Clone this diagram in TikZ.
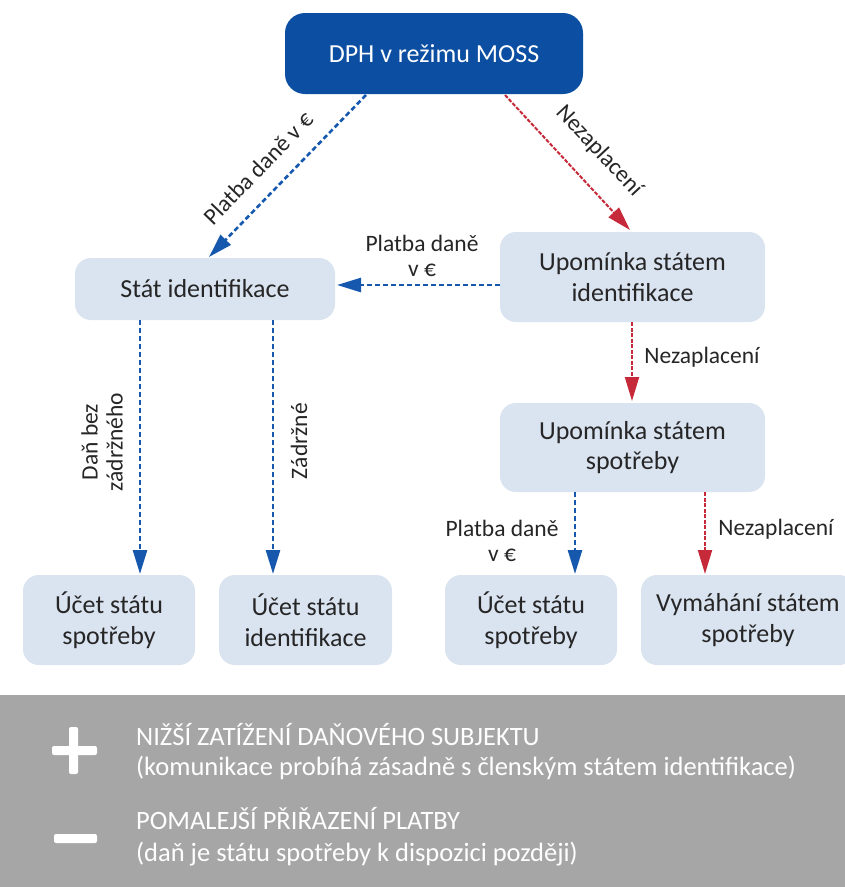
\documentclass[tikz,border=0pt]{standalone}
\usepackage{fontspec}
\setmainfont{Carlito}
\usetikzlibrary{arrows.meta}
\definecolor{dblue}{HTML}{0B4EA2}
\definecolor{lblue}{HTML}{DAE3F0}
\definecolor{ablue}{HTML}{1558AE}
\definecolor{ared}{HTML}{C62A3A}
\definecolor{panel}{HTML}{A6A6A6}
\definecolor{txt}{HTML}{262626}
\tikzset{
  box/.style={rounded corners=16pt, fill=lblue, text=txt, align=center, font=\fontsize{26}{30.5}\selectfont, inner sep=0pt},
  topbox/.style={rounded corners=20pt, fill=dblue, text=white, align=center, font=\fontsize{26}{30.5}\selectfont, inner sep=0pt},
  barrow/.style={ablue, line width=2.6pt, dash pattern=on 5pt off 3pt, -{Triangle[width=14pt,length=24pt]}},
  rarrow/.style={ared, line width=2pt, dash pattern=on 4pt off 1.5pt, -{Triangle[width=14pt,length=24pt]}},
  lbl/.style={text=txt, font=\fontsize{23.5}{25}\selectfont, align=center, inner sep=0pt},
  ptxt/.style={text=white, font=\fontsize{26.5}{30}\selectfont, anchor=base west, inner sep=0pt},
}
\begin{document}
\begin{tikzpicture}[x=1pt,y=-1pt]
\useasboundingbox (0,0) rectangle (845,887);
\fill[white] (0,0) rectangle (845,887);
% boxes
\node[topbox, minimum width=298pt, minimum height=81pt] (top) at (434,53.5) {DPH v režimu MOSS};
\node[box, minimum width=260pt, minimum height=62pt] (si) at (205,289) {Stát identifikace};
\node[box, minimum width=265pt, minimum height=90pt] (usi) at (632.5,277) {Upomínka státem\\identifikace};
\node[box, minimum width=265pt, minimum height=89pt] (usp) at (632.5,447.5) {Upomínka státem\\spotřeby};
\node[box, minimum width=172pt, minimum height=90pt] (u1) at (109,620) {Účet státu\\spotřeby};
\node[box, minimum width=173pt, minimum height=90pt] (u2) at (305.5,620) {Účet státu\\identifikace};
\node[box, minimum width=172pt, minimum height=90pt] (u3) at (531,620) {Účet státu\\spotřeby};
\node[box, minimum width=214pt, minimum height=90pt] (vym) at (748,620) {Vymáhání státem\\spotřeby};
% coordinates
\coordinate (a1) at (366,95);
\coordinate (a2) at (209,257);
\coordinate (b1) at (505,95);
\coordinate (b2) at (630,230);
\coordinate (c1) at (500,285);
\coordinate (c2) at (337,285);
\coordinate (d1) at (632,322);
\coordinate (d2) at (632,401);
\coordinate (e1) at (140,320);
\coordinate (e2) at (140,574);
\coordinate (f1) at (273,320);
\coordinate (f2) at (273,574);
\coordinate (g1) at (575,492);
\coordinate (g2) at (575,574);
\coordinate (h1) at (705,492);
\coordinate (h2) at (705,574);
% arrows
\draw[barrow] (a1) -- (a2);
\draw[rarrow] (b1) -- (b2);
\draw[barrow] (c1) -- (c2);
\draw[rarrow] (d1) -- (d2);
\draw[barrow] (e1) -- (e2);
\draw[barrow] (f1) -- (f2);
\draw[barrow] (g1) -- (g2);
\draw[rarrow] (h1) -- (h2);
% labels
\node[lbl, rotate=46] (la) at (258,168) {Platba daně v €};
\node[lbl, rotate=-47] (lb) at (599,151) {Nezaplacení};
\node[lbl] (lc) at (422,256) {Platba daně\\v €};
\node[lbl] (ld) at (702,357) {Nezaplacení};
\node[lbl, rotate=90] (le) at (102,442) {Daň bez\\zádržného};
\node[lbl, rotate=90] (lf) at (299,441) {Zádržné};
\node[lbl] (lg) at (502,541) {Platba daně\\v €};
\node[lbl] (lh) at (776,529) {Nezaplacení};
% panel
\fill[panel] (0,695) rectangle (845,887);
\fill[white, rounded corners=2pt] (52,746) rectangle (97,755);
\fill[white, rounded corners=2pt] (69,727) rectangle (78,774);
\fill[white, rounded corners=2pt] (54,834) rectangle (97,843);
\node[ptxt] (p1) at (136,745) {NIŽŠÍ ZATÍŽENÍ DAŇOVÉHO SUBJEKTU};
\node[ptxt] (p2) at (136,775) {(komunikace probíhá zásadně s členským státem identifikace)};
\node[ptxt] (p3) at (136,829) {POMALEJŠÍ PŘIŘAZENÍ PLATBY};
\node[ptxt] (p4) at (136,861) {(daň je státu spotřeby k dispozici později)};
\end{tikzpicture}
\end{document}
